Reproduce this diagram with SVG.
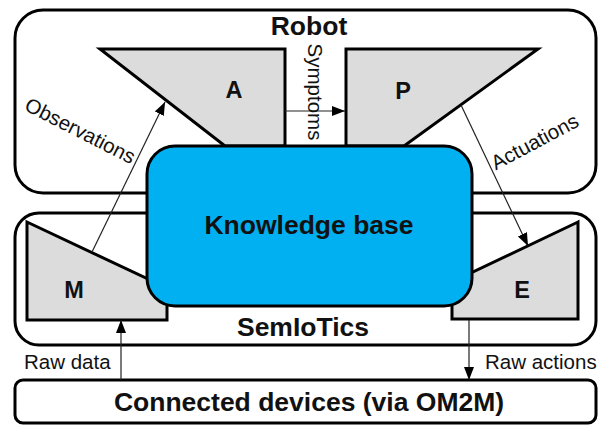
<svg xmlns="http://www.w3.org/2000/svg" width="598" height="426" viewBox="0 0 598 426">
<style>
.box{fill:#fff;stroke:#000;stroke-width:3}
.comp{fill:#dcdcdc;stroke:#000;stroke-width:3;stroke-linejoin:miter}
.kb{fill:#00b0f0;stroke:#000;stroke-width:3}
.big{font-family:"Liberation Sans",Arial,sans-serif;font-weight:bold;font-size:26.5px;fill:#111;text-anchor:middle}
.let{font-family:"Liberation Sans",Arial,sans-serif;font-weight:bold;font-size:23.5px;fill:#111;text-anchor:middle}
.lbl{font-family:"Liberation Sans",Arial,sans-serif;font-size:20.5px;fill:#111}
.conn{stroke:#222;stroke-width:1.2;fill:none;marker-end:url(#ah)}
</style>
<defs>
<marker id="ah" markerUnits="userSpaceOnUse" markerWidth="14" markerHeight="12" refX="13" refY="5" orient="auto">
<path d="M0,0 L13,5 L0,10 Z" fill="#000"/>
</marker>
</defs>
<g id="robot">
<rect class="box" x="15" y="10" width="581" height="183" rx="28"/>
<text class="big" x="309" y="35">Robot</text>
</g>
<g id="semiotics">
<rect class="box" x="15" y="213" width="581" height="132" rx="24"/>
<text class="big" x="303" y="336">SemIoTics</text>
</g>
<g id="devices">
<rect class="box" x="15" y="380" width="581" height="43" rx="8"/>
<text class="big" x="309" y="411">Connected devices (via OM2M)</text>
</g>
<g id="A">
<polygon class="comp" points="100,49 285,49 285,146 225,146"/>
<text class="let" x="234" y="98">A</text>
</g>
<g id="P">
<polygon class="comp" points="346,49 538,49 404,146 346,146"/>
<text class="let" x="403" y="99">P</text>
</g>
<g id="M">
<polygon class="comp" points="27,222 167,288 167,320 27,320"/>
<text class="let" x="74" y="298">M</text>
</g>
<g id="E">
<polygon class="comp" points="578,222 452,282 452,319 578,319"/>
<text class="let" x="522" y="298">E</text>
</g>
<g id="kb">
<rect class="kb" x="147" y="146" width="325" height="160" rx="28"/>
<text class="big" x="309" y="234">Knowledge base</text>
</g>
<g id="connectors">
<line class="conn" x1="92" y1="252" x2="165" y2="102"/>
<line class="conn" x1="285" y1="111" x2="345" y2="111"/>
<line class="conn" x1="461" y1="105" x2="528" y2="246"/>
<line class="conn" x1="121" y1="380" x2="121" y2="320"/>
<line class="conn" x1="469" y1="320" x2="469" y2="380"/>
<text class="lbl" text-anchor="middle" transform="translate(77,137) rotate(27)">Observations</text>
<text class="lbl" text-anchor="middle" transform="translate(308,92) rotate(90)">Symptoms</text>
<text class="lbl" text-anchor="middle" transform="translate(538,148) rotate(-28)">Actuations</text>
<text class="lbl" x="24" y="369">Raw data</text>
<text class="lbl" x="485" y="369">Raw actions</text>
</g>
</svg>
